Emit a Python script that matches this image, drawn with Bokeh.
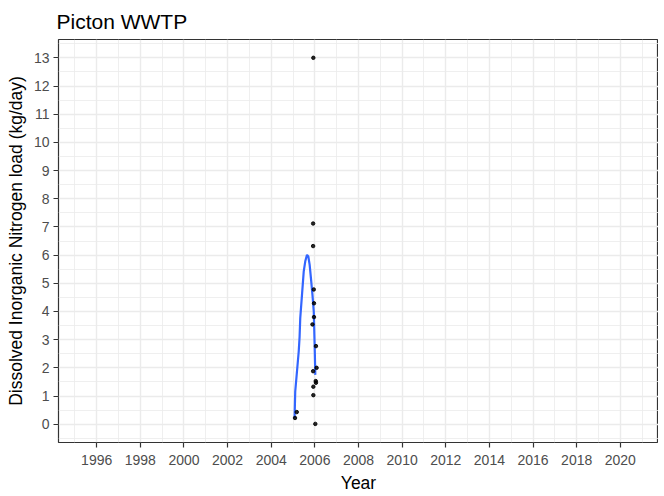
from bokeh.plotting import figure
from bokeh.models import FixedTicker, Range1d
from bokeh.embed import file_html
from bokeh.resources import INLINE

# observed loads
obs_year = [2005.93, 2005.92, 2005.92, 2005.95, 2005.96, 2005.96, 2005.89, 2006.05,
            2006.08, 2005.92, 2006.04, 2006.05, 2005.93, 2005.93, 2006.02, 2005.09, 2005.17]
obs_load = [13.0, 7.12, 6.32, 4.78, 4.29, 3.80, 3.54, 2.77,
            2.00, 1.88, 1.53, 1.47, 1.33, 1.03, 0.01, 0.22, 0.43]

# smoothed fit
fit_year = [2005.07, 2005.10, 2005.18, 2005.26, 2005.30, 2005.33, 2005.41, 2005.49, 2005.56,
            2005.64, 2005.70, 2005.76, 2005.82, 2005.89, 2005.95, 2005.99, 2006.02]
fit_load = [0.21, 1.16, 1.87, 2.58, 3.10, 3.76, 4.59, 5.42, 5.78,
            6.01, 5.95, 5.66, 5.18, 4.59, 3.99, 2.82, 1.75]

x_ticks = list(range(1996, 2021, 2))
x_minor = list(range(1995, 2022, 2))
y_ticks = list(range(0, 14))
y_minor = [i + 0.5 for i in range(-1, 14)]

FONT = "Liberation Sans"

p = figure(width=658, height=495, output_backend="svg", toolbar_location=None,
           x_range=Range1d(1994.25, 2021.75), y_range=Range1d(-0.65, 13.65),
           min_border_left=58, min_border_right=0, min_border_top=39, min_border_bottom=53,
           title="Picton WWTP")

p.title.text_font = FONT
p.title.text_font_size = "21px"
p.title.text_font_style = "normal"
p.title.text_color = "black"
p.title.offset = -2
p.title.standoff = 14

p.background_fill_color = "white"
p.border_fill_color = "white"
p.outline_line_color = "#333333"
p.outline_line_width = 1.2

xt = FixedTicker(ticks=x_ticks, minor_ticks=x_minor)
yt = FixedTicker(ticks=y_ticks, minor_ticks=y_minor)
p.xaxis.ticker = xt
p.yaxis.ticker = yt
p.xgrid.ticker = xt
p.ygrid.ticker = yt

for g in (p.xgrid, p.ygrid):
    g.grid_line_color = "#EBEBEB"
    g.grid_line_width = 1.4
    g.minor_grid_line_color = "#EBEBEB"
    g.minor_grid_line_width = 0.8

for ax in (p.xaxis, p.yaxis):
    ax.axis_line_color = None
    ax.major_tick_line_color = "#333333"
    ax.major_tick_line_width = 1.2
    ax.major_tick_in = 0
    ax.major_tick_out = 5
    ax.minor_tick_line_color = None
    ax.major_label_text_font = FONT
    ax.major_label_text_font_size = "14px"
    ax.major_label_text_color = "#4D4D4D"
    ax.axis_label_text_font = FONT
    ax.axis_label_text_font_size = "17.5px"
    ax.axis_label_text_font_style = "normal"
    ax.axis_label_text_color = "black"
    ax.axis_label_standoff = 5

p.yaxis.major_label_standoff = 4
p.xaxis.major_label_standoff = 7

p.xaxis.axis_label = "Year"
p.yaxis.axis_label = "Dissolved Inorganic Nitrogen load (kg/day)"

p.line(fit_year, fit_load, line_color="#3366FF", line_width=2.2)
p.scatter(obs_year, obs_load, size=3.5, fill_color="black", line_color="black", alpha=0.85)

open("out.html", "w").write(file_html(p, INLINE))
